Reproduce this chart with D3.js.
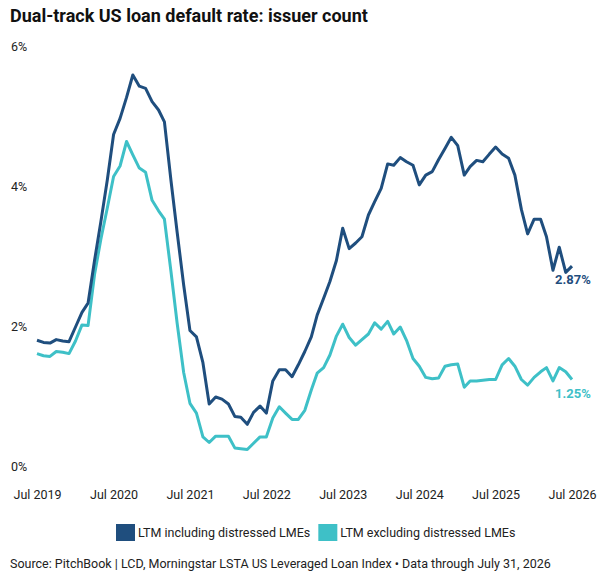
<!DOCTYPE html>
<html>
<head>
<meta charset="utf-8">
<script src="https://cdn.jsdelivr.net/npm/d3@7"></script>
<style>
  html, body { margin: 0; padding: 0; background: #fff; }
  svg { display: block; font-family: Roboto, "Noto Sans", sans-serif; }
</style>
</head>
<body>
<svg id="chart" width="601" height="580"></svg>
<script>
// monthly series, Jul 2019 .. Jul 2026
const startMonth = new Date(2019, 6, 1)

const inclDistressed = [
  1.81, 1.78, 1.77, 1.82, 1.80, 1.79, 2.00, 2.21, 2.34, 2.95,
  3.50, 4.10, 4.75, 4.98, 5.28, 5.60, 5.44, 5.41, 5.22, 5.10,
  4.93, 4.10, 3.35, 2.60, 1.95, 1.86, 1.49, 0.90, 1.00, 0.97,
  0.90, 0.72, 0.71, 0.61, 0.78, 0.87, 0.77, 1.23, 1.39, 1.39,
  1.29, 1.46, 1.65, 1.86, 2.17, 2.41, 2.65, 2.95, 3.41, 3.12,
  3.20, 3.29, 3.60, 3.79, 3.98, 4.33, 4.31, 4.42, 4.36, 4.31,
  4.03, 4.17, 4.22, 4.39, 4.55, 4.71, 4.59, 4.17, 4.29, 4.38,
  4.36, 4.47, 4.57, 4.47, 4.41, 4.17, 3.68, 3.33, 3.54, 3.54,
  3.29, 2.81, 3.14, 2.78, 2.87
]

const exclDistressed = [
  1.62, 1.59, 1.58, 1.65, 1.64, 1.62, 1.80, 2.03, 2.02, 2.75,
  3.25, 3.70, 4.15, 4.30, 4.65, 4.46, 4.27, 4.21, 3.81, 3.66,
  3.54, 2.80, 2.05, 1.35, 0.91, 0.77, 0.43, 0.35, 0.44, 0.44,
  0.44, 0.27, 0.26, 0.25, 0.34, 0.43, 0.43, 0.70, 0.86, 0.77,
  0.68, 0.68, 0.81, 1.10, 1.34, 1.42, 1.60, 1.87, 2.04, 1.85,
  1.74, 1.82, 1.90, 2.06, 1.97, 2.08, 1.90, 2.00, 1.81, 1.55,
  1.44, 1.28, 1.26, 1.27, 1.44, 1.46, 1.47, 1.14, 1.23, 1.23,
  1.24, 1.25, 1.25, 1.46, 1.55, 1.44, 1.25, 1.17, 1.28, 1.36,
  1.42, 1.23, 1.42, 1.36, 1.25
]

const seriesNames = ['LTM including distressed LMEs', 'LTM excluding distressed LMEs']
const seriesColors = ['#1f4e7e', '#3ec0c7']
const yTicks = [0, 2, 4, 6]
const xTickYears = [2019, 2020, 2021, 2022, 2023, 2024, 2025, 2026]

const titleText = 'Dual-track US loan default rate: issuer count'
const sourceText = 'Source: PitchBook | LCD, Morningstar LSTA US Leveraged Loan Index \u2022 Data through July 31, 2026'

const svg = d3.select('#chart')

const x = d3.scaleTime()
  .domain([startMonth, new Date(2026, 6, 1)])
  .range([37, 572])
const y = d3.scaleLinear()
  .domain([0, 6])
  .range([467, 47])

const toPoints = vals => vals.map((v, i) => ({date: d3.timeMonth.offset(startMonth, i), value: v}))
const series = [inclDistressed, exclDistressed].map((vals, i) => ({
  name: seriesNames[i], color: seriesColors[i], points: toPoints(vals)
}))

// title
svg.append('text')
  .attr('x', 10).attr('y', 22)
  .attr('font-size', 18).attr('font-weight', 700)
  .attr('fill', '#111')
  .text(titleText)

// y axis labels (no line, no grid)
svg.append('g').selectAll('text').data(yTicks).join('text')
  .attr('x', 11).attr('y', d => y(d))
  .attr('dy', '0.35em')
  .attr('font-size', 12.5).attr('fill', '#222')
  .text(d => d + '%')

// x axis labels
const xAxis = d3.axisBottom(x)
  .tickValues(xTickYears.map(yr => new Date(yr, 6, 1)))
  .tickFormat(d3.timeFormat('Jul %Y'))
  .tickSize(0)
  .tickPadding(0)
svg.append('g')
  .attr('transform', 'translate(0, 490)')
  .call(xAxis)
  .call(g => g.select('.domain').remove())
  .call(g => g.selectAll('text').attr('font-size', 12.5).attr('fill', '#222')
    .attr('font-family', 'Roboto, sans-serif'))

// lines, light one first so the dark one sits on top
const line = d3.line()
  .x(d => x(d.date))
  .y(d => y(d.value))

svg.append('g').selectAll('path').data(series.slice().reverse()).join('path')
  .attr('d', d => line(d.points))
  .attr('fill', 'none')
  .attr('stroke', d => d.color)
  .attr('stroke-width', 3)
  .attr('stroke-linejoin', 'round')

// end-value labels
svg.append('g').selectAll('text').data(series).join('text')
  .attr('x', d => x(d.points[d.points.length - 1].date) - 17)
  .attr('y', d => y(d.points[d.points.length - 1].value) + 13.5)
  .attr('dy', '0.35em')
  .attr('font-size', 13).attr('font-weight', 700)
  .attr('fill', d => d.color)
  .text(d => d.points[d.points.length - 1].value.toFixed(2) + '%')

// legend
const legend = svg.append('g').attr('transform', 'translate(116, 524)')
let lx = 0
series.forEach(s => {
  const g = legend.append('g').attr('transform', `translate(${lx}, 0)`)
  g.append('rect').attr('width', 19).attr('height', 17).attr('fill', s.color)
  const t = g.append('text')
    .attr('x', 22).attr('y', 13)
    .attr('font-size', 12.5).attr('fill', '#222')
    .text(s.name)
  lx += 22 + t.node().getComputedTextLength() + 8
})

// source
svg.append('text')
  .attr('x', 10).attr('y', 568)
  .attr('font-size', 12.5).attr('fill', '#222')
  .text(sourceText)
</script>
</body>
</html>
